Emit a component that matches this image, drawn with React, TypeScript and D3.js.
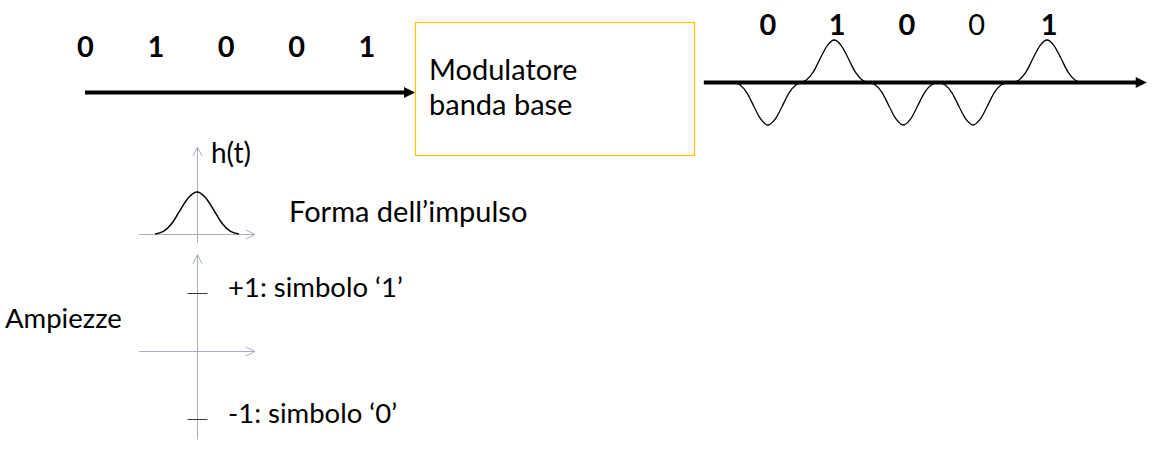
import React, { useEffect, useRef } from 'react';
import * as d3 from 'd3';

// bits entering the modulator
const inputBits = ["0", "1", "0", "0", "1"];
// bits printed above the output signal (the 4th one is not bold in the slide)
const outputBits = ["0", "1", "0", "0", "1"];
const outputBitBold = [true, true, true, false, true];
// pulse centres and label positions, in symbol periods
const pulseCenters = [0, 0.95, 1.94, 2.94, 4.0];
const outputLabelPos = [0, 0.99, 1.99, 2.99, 4.03];
// normalised pulse shape h(t): t in half-widths, h in peak units
const pulseShape: [number, number][] = [
  [-1, 0], [-0.8, 0.06], [-0.6, 0.25], [-0.4, 0.57], [-0.2, 0.87], [0, 1],
  [0.2, 0.87], [0.4, 0.57], [0.6, 0.25], [0.8, 0.06], [1, 0],
];
// amplitude levels and their meaning
const levels = [1, -1];
const levelLabels = ["+1: simbolo \u20181\u2019", "-1: simbolo \u20180\u2019"];

const FONT = "Lato, 'Open Sans', sans-serif";
const AXIS_GREY = "#A7AFBF";

export default function App() {
  const ref = useRef<SVGSVGElement>(null);

  useEffect(() => {
    if (!ref.current) return;
    const svg = d3.select(ref.current);
    svg.selectAll("*").remove();

    const line = d3.line<[number, number]>().x(d => d[0]).y(d => d[1]);
    const smooth = d3.line<[number, number]>().x(d => d[0]).y(d => d[1]).curve(d3.curveMonotoneX);

    const text = (x: number, y: number, s: string, size = 28, weight = "normal", anchor = "start") =>
      svg.append("text")
        .attr("x", x).attr("y", y)
        .attr("text-anchor", anchor)
        .style("font-family", FONT)
        .style("font-size", `${size}px`)
        .style("font-weight", weight)
        .style("fill", "#000")
        .text(s);

    // ---- input bit stream ----
    const xIn = d3.scaleLinear().domain([0, 4]).range([85.5, 367]);
    inputBits.forEach((b, i) => text(xIn(i), 57, b, 29, "bold", "middle"));

    const inY = 92.5;
    const boxX = 415, boxY = 22, boxW = 279, boxH = 133;
    svg.append("line")
      .attr("x1", 85).attr("x2", boxX - 9)
      .attr("y1", inY).attr("y2", inY)
      .attr("stroke", "#000").attr("stroke-width", 4);
    svg.append("path")
      .attr("d", line([[boxX - 11, inY - 5.5], [boxX, inY], [boxX - 11, inY + 5.5]]) + "Z")
      .attr("fill", "#000");

    // ---- modulator block ----
    svg.append("rect")
      .attr("x", boxX + 0.5).attr("y", boxY + 0.5)
      .attr("width", boxW).attr("height", boxH)
      .attr("fill", "#fff")
      .attr("stroke", "#FFC000").attr("stroke-width", 1.2);
    text(429, 80, "Modulatore", 29);
    text(429, 115, "banda base", 29);

    // ---- output signal ----
    const xOut = d3.scaleLinear().domain([0, 4]).range([768, 1047]);
    const yOut = d3.scaleLinear().domain([-1, 1]).range([125, 40]);
    const halfWidth = 0.5; // pulse half-width in symbol periods
    const outExtent = [-0.92, 5.43];

    svg.append("line")
      .attr("x1", xOut(outExtent[0])).attr("x2", xOut(outExtent[1]) - 9)
      .attr("y1", yOut(0)).attr("y2", yOut(0))
      .attr("stroke", "#000").attr("stroke-width", 4);
    const tip = xOut(outExtent[1]);
    svg.append("path")
      .attr("d", line([[tip - 11, yOut(0) - 5.5], [tip, yOut(0)], [tip - 11, yOut(0) + 5.5]]) + "Z")
      .attr("fill", "#000");

    outputBits.forEach((b, i) => {
      const amp = b === "1" ? 1 : -1;
      const pts = pulseShape.map(([t, h]) => [xOut(pulseCenters[i] + t * halfWidth), yOut(amp * h)] as [number, number]);
      svg.append("path")
        .attr("d", smooth(pts))
        .attr("fill", "none")
        .attr("stroke", "#000")
        .attr("stroke-width", 1.3);
      text(xOut(outputLabelPos[i]), 35, b, 29, outputBitBold[i] ? "bold" : "normal", "middle");
    });

    // ---- pulse shape h(t) ----
    const xH = d3.scaleLinear().domain([-1, 1]).range([155, 239]);
    const yH = d3.scaleLinear().domain([0, 1]).range([234, 192]);
    const axisX = xH(0) + 0.5; // half-pixel for a crisp 1px axis
    const hExtentX = [-1.38, 1.38];

    const vArrow = (x: number, yTop: number, yBottom: number) => {
      svg.append("line").attr("x1", x).attr("x2", x).attr("y1", yTop).attr("y2", yBottom)
        .attr("stroke", AXIS_GREY).attr("stroke-width", 1);
      svg.append("path").attr("d", line([[x - 4.5, yTop + 9], [x, yTop], [x + 4.5, yTop + 9]]))
        .attr("fill", "none").attr("stroke", AXIS_GREY).attr("stroke-width", 1);
    };
    const hArrow = (y: number, xLeft: number, xRight: number) => {
      svg.append("line").attr("x1", xLeft).attr("x2", xRight).attr("y1", y).attr("y2", y)
        .attr("stroke", AXIS_GREY).attr("stroke-width", 1);
      svg.append("path").attr("d", line([[xRight - 9, y - 4.5], [xRight, y], [xRight - 9, y + 4.5]]))
        .attr("fill", "none").attr("stroke", AXIS_GREY).attr("stroke-width", 1);
    };

    vArrow(axisX, yH(2.07), yH(-0.21));
    hArrow(yH(0) + 0.5, xH(hExtentX[0]), xH(hExtentX[1]));
    svg.append("path")
      .attr("d", smooth(pulseShape.map(([t, h]) => [xH(t), yH(h)] as [number, number])))
      .attr("fill", "none")
      .attr("stroke", "#000")
      .attr("stroke-width", 1.5);
    text(211, 163, "h(t)", 28);
    text(289, 222, "Forma dell\u2019impulso", 29);

    // ---- amplitude levels ----
    const yA = d3.scaleLinear().domain([-1, 0, 1]).range([419, 351, 293]);
    vArrow(axisX, yA(1.66), yA(-1.3));
    hArrow(yA(0) + 0.5, xH(hExtentX[0]), xH(hExtentX[1]));
    levels.forEach((lv, i) => {
      svg.append("line")
        .attr("x1", axisX - 10).attr("x2", axisX + 10)
        .attr("y1", yA(lv) + 0.5).attr("y2", yA(lv) + 0.5)
        .attr("stroke", "#3A3A3A").attr("stroke-width", 1);
      text(228, yA(lv) + 4, levelLabels[i], 27.5);
    });
    text(5, 328, "Ampiezze", 27.5);
  }, []);

  return (
    <svg
      ref={ref}
      width={1170}
      height={462}
      style={{ position: 'absolute', left: 0, top: 0, background: '#fff' }}
    />
  );
}
